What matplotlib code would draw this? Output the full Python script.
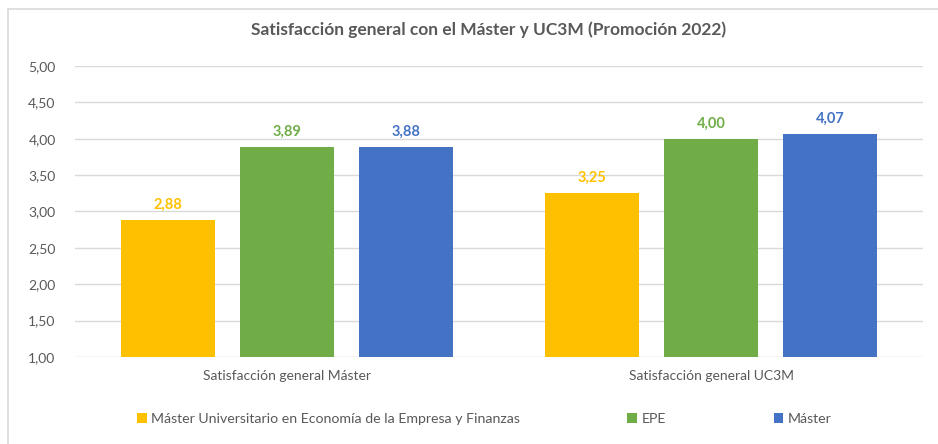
import matplotlib
matplotlib.use("Agg")
import matplotlib.pyplot as plt
import numpy as np
from matplotlib.patches import Rectangle, Patch

categories = ["Satisfacción general Máster", "Satisfacción general UC3M"]
series_names = ["Máster Universitario en Economía de la Empresa y Finanzas", "EPE", "Máster"]
values_mueef = [2.88, 3.25]
values_epe = [3.89, 4.00]
values_master = [3.88, 4.07]
yticks = [1.0, 1.5, 2.0, 2.5, 3.0, 3.5, 4.0, 4.5, 5.0]

colors = ["#FFC000", "#70AD47", "#4472C4"]
text_color = "#595959"
grid_color = "#D9D9D9"

plt.rcParams['font.family'] = ['Lato', 'DejaVu Sans']

fig = plt.figure(figsize=(9.38, 4.44), dpi=100)
ax = fig.add_axes([75/938, 1-357/444, (923-75)/938, (357-66)/444])

# figure border
fig.patches.append(Rectangle((7.5/938, -0.5), 2, 1 - 9.5/444 + 0.5, transform=fig.transFigure,
                             fill=False, edgecolor=grid_color, linewidth=1.2))

x = np.arange(len(categories))
width = 0.2217
spacing = 0.2807
all_vals = [values_mueef, values_epe, values_master]
for i, (vals, c) in enumerate(zip(all_vals, colors)):
    pos = x + (i - 1) * spacing
    ax.bar(pos, np.array(vals) - 1.0, width=width, bottom=1.0, color=c, zorder=3)
    for p, v in zip(pos, vals):
        ax.annotate(f"{v:.2f}".replace(".", ","), (p, v), xytext=(0, 11), textcoords="offset points",
                    ha="center", va="center", color=c, fontsize=10.5, fontweight="bold")

ax.set_xlim(-0.5, 1.5)
ax.set_ylim(1.0, 5.0)
ax.set_yticks(yticks)
ax.set_yticklabels([f"{t:.2f}".replace(".", ",") for t in yticks])
ax.set_xticks(x)
ax.set_xticklabels(categories)
ax.tick_params(axis="both", length=0, colors=text_color, labelsize=10)
ax.tick_params(axis="y", pad=14)
ax.tick_params(axis="x", pad=9)
for s in ax.spines.values():
    s.set_visible(False)
ax.grid(axis="y", color=grid_color, linewidth=1, zorder=0)
ax.set_axisbelow(True)

fig.text(489/938, 1 - 30/444, "Satisfacción general con el Máster y UC3M (Promoción 2022)",
         ha="center", va="center", fontsize=12.5, fontweight="bold", color=text_color)

handles = [Patch(facecolor=c, edgecolor="none") for c in colors]
leg = fig.legend(handles, series_names, loc="center", bbox_to_anchor=(484/938, 1 - 419/444),
                 ncol=3, frameon=False, fontsize=10.2, handlelength=0.7, handleheight=0.7,
                 handletextpad=0.3, columnspacing=7.6, labelcolor=text_color,
                 borderaxespad=0, borderpad=0)

fig.savefig("out.png", dpi=100)
